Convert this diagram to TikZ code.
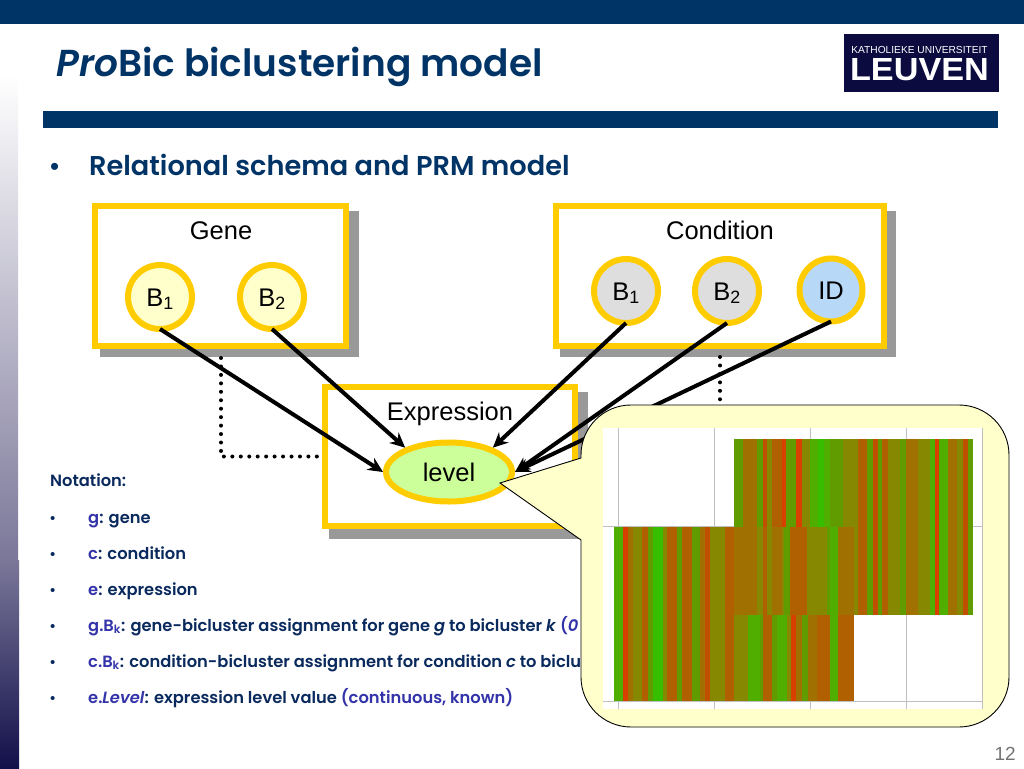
\documentclass[tikz,border=0pt]{standalone}
\usepackage{fontspec}
\setmainfont{Liberation Sans}
\newfontfamily\gothic{Poppins}[UprightFont=* SemiBold,ItalicFont=* SemiBold Italic,BoldFont=* SemiBold,BoldItalicFont=* SemiBold Italic]
\usetikzlibrary{shapes.geometric,arrows.meta,calc}
\definecolor{navy}{HTML}{003366}
\definecolor{dnavy}{HTML}{0A2A5E}
\definecolor{purp}{HTML}{3333AA}
\definecolor{gold}{HTML}{FFCC00}
\definecolor{shadowgrey}{HTML}{999999}
\definecolor{paleyellow}{HTML}{FFFFCC}
\definecolor{logoblue}{HTML}{0B0B40}
\definecolor{bandmid}{HTML}{7B7799}
\definecolor{bandend}{HTML}{12104A}
% heat map colours
\definecolor{hR}{HTML}{D84000}
\definecolor{hS}{HTML}{C05000}
\definecolor{hO}{HTML}{B06000}
\definecolor{hT}{HTML}{A07000}
\definecolor{hA}{HTML}{858800}
\definecolor{hM}{HTML}{609C00}
\definecolor{hG}{HTML}{50AE00}
\definecolor{hL}{HTML}{38BE00}
\begin{document}
\begin{tikzpicture}[x=1pt,y=-1pt,
  box/.style={draw=gold,line width=6pt,fill=white},
  attr/.style={circle,draw=gold,line width=6pt,minimum size=64pt,inner sep=0pt,text height=18pt,text depth=0pt,font=\fontsize{25.5}{25.5}\selectfont},
  lab/.style={anchor=base,inner sep=0pt,font=\fontsize{25.5}{25.5}\selectfont,text=black},
  link/.style={line width=4pt,-{Stealth[length=15pt,width=14pt]}},
  dots/.style={line width=4pt,line cap=round,dash pattern=on 0pt off 8.45pt},
  note/.style={anchor=base west,font=\gothic\fontsize{16.3}{16.3}\selectfont,text=dnavy,inner sep=0pt},
  dotb/.style={anchor=base west,font=\fontsize{15}{15}\selectfont,text=dnavy,inner sep=0pt},
  gridl/.style={draw=black!25,line width=1pt}]
\useasboundingbox (0,0) rectangle (1024,768);
\fill[white] (0,0) rectangle (1024,768);
% left band
\shade[top color=white,bottom color=bandmid] (0,75) rectangle (18,560);
\shade[top color=bandmid,bottom color=bandend] (0,560) rectangle (19,768);
% header
\fill[navy] (0,0) rectangle (1024,24);
\fill[navy] (43,111) rectangle (998,128);
\node[anchor=base west,inner sep=0pt,text=navy,font=\gothic\fontsize{37.5}{37.5}\selectfont] (title) at (56,77) {\textit{Pro}Bic biclustering model};
\fill[logoblue] (844,34) rectangle (999,92);
\node[anchor=base,inner sep=0pt,text=white,font=\fontsize{10.2}{10.2}\selectfont] (ku) at (919.5,54) {KATHOLIEKE UNIVERSITEIT};
\node[anchor=base,inner sep=0pt,text=white,font=\bfseries\fontsize{32}{32}\selectfont] (leu) at (919.5,80) {\scalebox{1.07}[1]{LEUVEN}};
\node[anchor=base west,inner sep=0pt,text=navy,font=\fontsize{26}{26}\selectfont] (b0) at (50,175) {•};
\node[anchor=base west,inner sep=0pt,text=navy,font=\gothic\fontsize{27.2}{27.2}\selectfont] (h1) at (89,175) {Relational schema and PRM model};
\node[anchor=base east,inner sep=0pt,text=black!55,font=\fontsize{19}{19}\selectfont] (pg) at (1016,760) {12};
% boxes
\fill[shadowgrey] (100,211) rectangle (359,357);
\draw[box] (95,206) rectangle (346,346);
\fill[shadowgrey] (560,211) rectangle (896,357);
\draw[box] (556,206) rectangle (884,346);
\coordinate (d1) at (221,358);
\coordinate (d2) at (221,456.5);
\coordinate (d3) at (322,456.5);
\coordinate (d4) at (720,357);
\coordinate (d5) at (720,405);
\draw[dots] (d1)--(d2)--(d3);
\draw[dots] (d4)--(d5);
\fill[shadowgrey] (329,392) rectangle (588,539);
\draw[box] (325,387) rectangle (575,526);
\node[lab] (gene) at (221,239) {Gene};
\node[lab] (cond) at (720,239) {Condition};
\node[lab] (expr) at (450,420) {Expression};
\node[attr,fill=paleyellow] (g1) at (160,297) {B\textsubscript{1}};
\node[attr,fill=paleyellow] (g2) at (272,297) {B\textsubscript{2}};
\node[attr,fill=black!13] (c1) at (626,291) {B\textsubscript{1}};
\node[attr,fill=black!13] (c2) at (727,291) {B\textsubscript{2}};
\node[attr,fill={rgb,255:red,184;green,216;blue,248},minimum size=63pt] (c3) at (831,290) {ID};
\node[ellipse,draw=gold,line width=6pt,fill={rgb,255:red,204;green,255;blue,153},minimum width=126pt,minimum height=59pt,inner sep=0pt,text height=19pt,text depth=0pt,font=\fontsize{25.5}{25.5}\selectfont] (lvl) at (449,472) {level};
\draw[link] ([yshift=3pt]g1.south) -- (lvl.west);
\draw[link] ([yshift=3pt]g2.south) -- (lvl.151);
\draw[link] ([yshift=3pt]c1.south) -- (lvl.29);
\draw[link] ([yshift=3pt]c2.south) -- (lvl.east);
\draw[link] ([yshift=3pt]c3.south) -- (lvl.east);
% notation
\node[note] (n0) at (50,486) {Notation:};
\foreach \yy/\tt in {
 523/{\textcolor{purp}{g}: gene},
 559/{\textcolor{purp}{c}: condition},
 595/{\textcolor{purp}{e}: expression},
 631/{\textcolor{purp}{g.B\textsubscript{k}}: gene-bicluster assignment for gene \textit{g} to bicluster \textit{k} \textcolor{purp}{(\textit{0 or 1})}},
 667/{\textcolor{purp}{c.B\textsubscript{k}}: condition-bicluster assignment for condition \textit{c} to bicluster \textit{k}},
 703/{\textcolor{purp}{e.\textit{Level}}: expression level value \textcolor{purp}{(continuous, known)}}}{
  \node[dotb] at (50,\yy) {•};
  \node[note] at (88,\yy) {\tt};
}
% callout
\draw[black,fill=paleyellow,line width=0.9pt] (581,458)
  -- (581,455) arc[start angle=180,end angle=90,radius=50pt]
  -- (959,405) arc[start angle=90,end angle=0,radius=50pt]
  -- (1009,677) arc[start angle=0,end angle=-90,radius=50pt]
  -- (631,727) arc[start angle=-90,end angle=-180,radius=50pt]
  -- (581,540) -- (500,483) -- cycle;
% plot
\fill[white] (603,428) rectangle (982,709);
\foreach \gx in {618,714,810,906,982} \draw[gridl] (\gx,428) -- (\gx,709);
\draw[gridl] (603,526) -- (982,526);
\draw[gridl] (603,701.5) -- (982,701.5);
% stripes shared by the two lower rows
\foreach \a/\b/\c in {614/623/hG,623/628/hR,628/633/hT,633/642/hA,642/648/hO,648/653/hM,653/663/hL,663/667/hA,667/677/hO,677/682/hM,682/692/hO,692/700/hM,700/705/hT,705/710/hS,710/725/hA,725/734/hO}
  \fill[\c] (\a,527) rectangle (\b,701);
% top row, middle part
\foreach \a/\b/\c in {734/743/hM,743/757/hT,757/763/hM,763/767/hS,767/772/hA,772/782/hO,782/786/hR,786/796/hM,796/802/hR,802/810/hA,810/818/hG,818/824/hL,824/830/hG,830/843/hM,843/854/hA}
  \fill[\c] (\a,439) rectangle (\b,527);
% middle row, middle part
\foreach \a/\b/\c in {734/757/hT,757/763/hA,763/767/hO,767/772/hA,772/782/hT,782/784/hA,784/790/hM,790/807/hO,807/810/hA,810/827/hA,827/830/hM,830/838/hG,838/854/hT}
  \fill[\c] (\a,527) rectangle (\b,615);
% bottom row, middle part
\foreach \a/\b/\c in {734/748/hA,748/760/hG,760/763/hM,763/772/hO,772/777/hM,777/787/hG,787/791/hA,791/796/hR,796/802/hT,802/808/hM,808/817/hT,817/830/hO,830/838/hG,838/854/hO}
  \fill[\c] (\a,615) rectangle (\b,701);
% right part, two upper rows
\foreach \a/\b/\c in {854/858/hA,858/867/hO,867/873/hM,873/878/hS,878/882/hM,882/888/hO,888/900/hA,900/906/hM,906/918/hT,918/930/hA,930/935/hG,935/939/hR,939/948/hG,948/957/hT,957/963/hA,963/968/hS,968/973/hM}
  \fill[\c] (\a,439) rectangle (\b,615);
\end{tikzpicture}
\end{document}
